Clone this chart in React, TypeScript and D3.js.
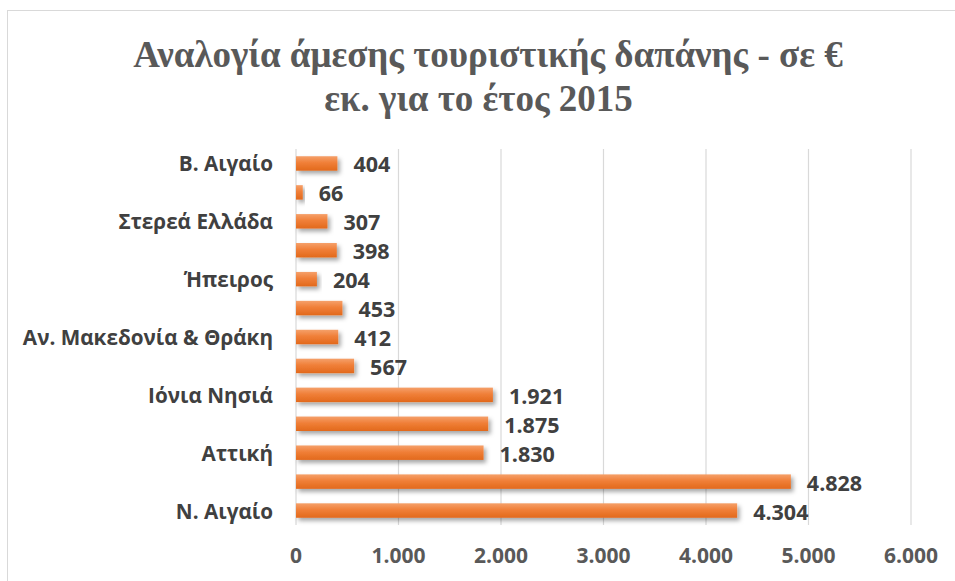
import React from "react";
import * as d3 from "d3";

const categories = [
  "Β. Αιγαίο",
  "Δ. Μακεδονία",
  "Στερεά Ελλάδα",
  "Δ. Ελλάδα",
  "Ήπειρος",
  "Θεσσαλία",
  "Αν. Μακεδονία & Θράκη",
  "Πελοπόννησος",
  "Ιόνια Νησιά",
  "Κ. Μακεδονία",
  "Αττική",
  "Κρήτη",
  "Ν. Αιγαίο",
];
const values = [404, 66, 307, 398, 204, 453, 412, 567, 1921, 1875, 1830, 4828, 4304];
const xTicks = [0, 1000, 2000, 3000, 4000, 5000, 6000];
const titleLines = ["Αναλογία άμεσης τουριστικής δαπάνης - σε €", "εκ. για το έτος 2015"];

const fmt = (v: number) => d3.format(",")(v).replace(/,/g, ".");

export default function App() {
  const W = 955, H = 581;
  const x = d3.scaleLinear().domain([0, 6000]).range([296, 911]);
  const y = d3.scaleBand<string>().domain(categories).range([149, 525]).paddingInner(0.5).paddingOuter(0.25);
  const font = "'Open Sans', sans-serif";
  const serif = "'Liberation Serif', 'Times New Roman', serif";
  return (
    <svg width={W} height={H} style={{ position: "absolute", left: 0, top: 0, background: "#fff" }}>
      <defs>
        <linearGradient id="barGrad" x1="0" y1="0" x2="0" y2="1">
          <stop offset="0%" stopColor="#f5a06a" />
          <stop offset="45%" stopColor="#f07f38" />
          <stop offset="100%" stopColor="#e2691c" />
        </linearGradient>
        <filter id="shadow" x="-10%" y="-50%" width="130%" height="220%">
          <feDropShadow dx="2.5" dy="3" stdDeviation="2" floodColor="#000" floodOpacity="0.35" />
        </filter>
      </defs>
      <rect x={7.5} y={10.5} width={980} height={600} fill="#fff" stroke="#d9d9d9" strokeWidth={1} />
      <text x={488} y={67} textAnchor="middle" fontFamily={serif} fontWeight="bold" fontSize={37} fill="#595959">
        {titleLines[0]}
      </text>
      <text x={478.5} y={111} textAnchor="middle" fontFamily={serif} fontWeight="bold" fontSize={37} fill="#595959">
        {titleLines[1]}
      </text>
      {xTicks.map((t) => (
        <line key={"g" + t} x1={x(t)} x2={x(t)} y1={149} y2={525} stroke="#d9d9d9" strokeWidth={1.2} />
      ))}
      {categories.map((c, i) => (
        <rect
          key={"b" + c}
          x={x(0)}
          y={y(c)!}
          width={x(values[i]) - x(0)}
          height={y.bandwidth()}
          fill="url(#barGrad)"
          filter="url(#shadow)"
        />
      ))}
      {categories.map((c, i) => (
        <text
          key={"v" + c}
          x={x(values[i]) + 16}
          y={y(c)! + y.bandwidth() / 2 + 9}
          fontFamily={font}
          fontWeight="bold"
          fontSize={21.5}
          fill="#404040"
        >
          {fmt(values[i])}
        </text>
      ))}
      {categories.map((c, i) =>
        i % 2 === 0 ? (
          <text
            key={"c" + c}
            x={273}
            y={y(c)! + y.bandwidth() / 2 + 8}
            textAnchor="end"
            fontFamily={font}
            fontWeight="bold"
            fontSize={20.7}
            fill="#404040"
          >
            {c}
          </text>
        ) : null
      )}
      {xTicks.map((t) => (
        <text key={"t" + t} x={x(t)} y={563} textAnchor="middle" fontFamily={font} fontWeight="bold" fontSize={21} fill="#595959">
          {fmt(t)}
        </text>
      ))}
    </svg>
  );
}
